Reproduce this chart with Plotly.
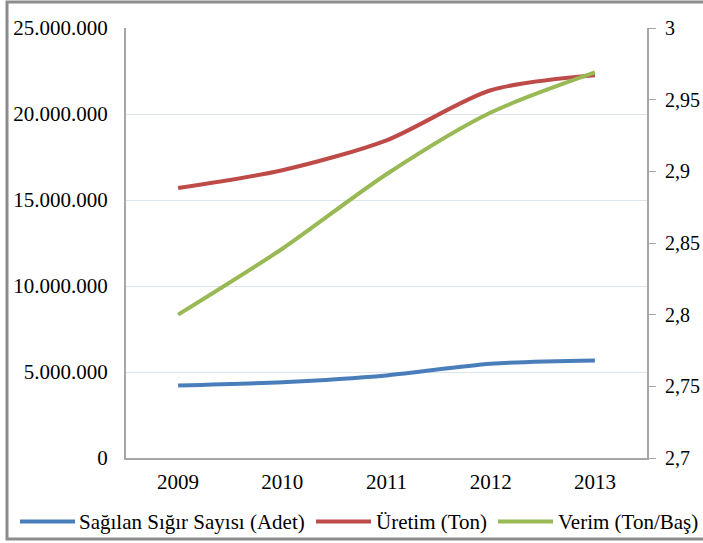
import plotly.graph_objects as go

years = ["2009", "2010", "2011", "2012", "2013"]
sigir_sayisi = [4220000, 4410000, 4800000, 5480000, 5670000]
uretim = [15700000, 16730000, 18470000, 21380000, 22250000]
verim = [2.800, 2.846, 2.898, 2.941, 2.969]

names = ["Sağılan Sığır Sayısı (Adet)", "Üretim (Ton)", "Verim (Ton/Baş)"]
colors = ["#4A7EBB", "#BE4B48", "#98B954"]
FONT = "Liberation Serif"
FS = 21

fig = go.Figure()
fig.add_trace(go.Scatter(x=years, y=sigir_sayisi, name=names[0], mode="lines",
                         line=dict(color=colors[0], width=4, shape="spline", smoothing=0.8)))
fig.add_trace(go.Scatter(x=years, y=uretim, name=names[1], mode="lines",
                         line=dict(color=colors[1], width=4, shape="spline", smoothing=0.8)))
fig.add_trace(go.Scatter(x=years, y=verim, name=names[2], mode="lines", yaxis="y2",
                         line=dict(color=colors[2], width=4, shape="spline", smoothing=0.8)))

L, R, T, B = 126, 56, 28, 85
W, H = 703, 543
pw, ph = W - L - R, H - T - B

def px(x):
    return (x - L) / pw

def py(y):
    return (H - B - y) / ph

# manual legend (pixel layout of the reference)
legend_lines = [(20, 75), (316, 371), (498, 553)]
legend_text_x = [77, 374, 556]
legend_y = 521.5
shapes = [dict(type="rect", xref="paper", yref="paper",
               x0=px(7), x1=px(710), y0=py(539), y1=py(2),
               line=dict(color="#8C8C8C", width=3), fillcolor="rgba(0,0,0,0)",
               layer="below")]
annotations = []
for (x0, x1), tx, name, col in zip(legend_lines, legend_text_x, names, colors):
    shapes.append(dict(type="line", xref="paper", yref="paper",
                       x0=px(x0), x1=px(x1), y0=py(legend_y), y1=py(legend_y),
                       line=dict(color=col, width=4)))
    annotations.append(dict(xref="paper", yref="paper", x=px(tx), y=py(legend_y),
                            xanchor="left", yanchor="middle", text=name, showarrow=False,
                            font=dict(family=FONT, size=FS, color="#000000")))

fig.update_layout(
    width=W, height=H,
    margin=dict(l=L, r=R, t=T, b=B, autoexpand=False),
    paper_bgcolor="white", plot_bgcolor="white",
    separators=",.",
    font=dict(family=FONT, size=FS, color="#000000"),
    showlegend=False,
    xaxis=dict(type="category", range=[-0.5, 4.5], showgrid=False,
               showline=True, linecolor="#A6A6A6", linewidth=2, ticks="",
               ticklabelstandoff=4, tickfont=dict(family=FONT, size=FS)),
    yaxis=dict(range=[0, 25000000], dtick=5000000, tickformat=",d",
               showgrid=True, gridcolor="#DCE4F0", gridwidth=1,
               showline=True, linecolor="#A6A6A6", linewidth=2, ticks="",
               zeroline=False, ticklabelstandoff=12, tickfont=dict(family=FONT, size=FS)),
    yaxis2=dict(range=[2.7, 3.0], dtick=0.05, overlaying="y", side="right",
                showgrid=False, showline=True, linecolor="#A6A6A6", linewidth=2,
                ticks="outside", ticklen=7, tickcolor="#A6A6A6", tickwidth=1,
                zeroline=False, ticklabelstandoff=5, tickfont=dict(family=FONT, size=20)),
    shapes=shapes,
    annotations=annotations,
)

fig.write_html("out.html", config={"displayModeBar": False},
               post_script="document.body.style.margin='0';")
